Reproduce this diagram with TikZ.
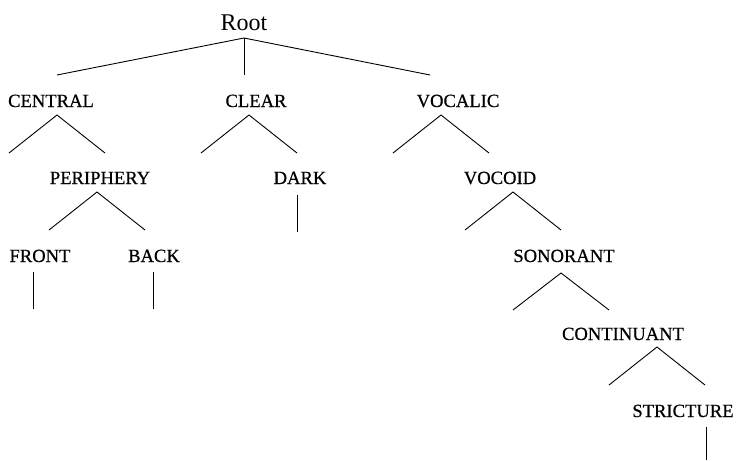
\documentclass[tikz,border=0pt]{standalone}
\usepackage{fontspec}
\setmainfont{Liberation Serif}
\newfontfamily\labfont[FakeBold=0.6]{Liberation Serif}
\begin{document}
\begin{tikzpicture}[x=1pt,y=-1pt,
  lab/.style={font=\labfont\fontsize{18.6}{20}\selectfont, anchor=base, inner sep=0pt},
  br/.style={line width=0.9pt, line cap=butt}]
\useasboundingbox (0,0) rectangle (736,461);
% labels
\node[anchor=base, inner sep=0pt, font=\fontsize{24}{26}\selectfont] (root) at (244,30) {Root};
\node[lab] (central) at (51,107) {CENTRAL};
\node[lab] (clear) at (256,107) {CLEAR};
\node[lab] (vocalic) at (458,107) {VOCALIC};
\node[lab] (periphery) at (100,184) {PERIPHERY};
\node[lab] (dark) at (300,184) {DARK};
\node[lab] (vocoid) at (500,184) {VOCOID};
\node[lab] (front) at (40,262) {FRONT};
\node[lab] (back) at (154,262) {BACK};
\node[lab] (sonorant) at (564,262) {SONORANT};
\node[lab] (continuant) at (623,340) {CONTINUANT};
\node[lab] (stricture) at (683,417) {STRICTURE};
% branch points
\coordinate (r0) at (244,38);
\coordinate (r1) at (57,75);
\coordinate (r2) at (244,75);
\coordinate (r3) at (430,75);
\coordinate (c0) at (57,115); \coordinate (c1) at (9,153); \coordinate (c2) at (105,153);
\coordinate (l0) at (249,115); \coordinate (l1) at (201,153); \coordinate (l2) at (297,153);
\coordinate (v0) at (441,115); \coordinate (v1) at (393,153); \coordinate (v2) at (489,153);
\coordinate (p0) at (97,192); \coordinate (p1) at (49,230); \coordinate (p2) at (145,230);
\coordinate (d0) at (297,195); \coordinate (d1) at (297,232);
\coordinate (o0) at (513,192); \coordinate (o1) at (465,230); \coordinate (o2) at (561,230);
\coordinate (f0) at (33,272); \coordinate (f1) at (33,309);
\coordinate (b0) at (153,272); \coordinate (b1) at (153,309);
\coordinate (s0) at (561,273); \coordinate (s1) at (513,310); \coordinate (s2) at (609,310);
\coordinate (n0) at (657,347); \coordinate (n1) at (609,385); \coordinate (n2) at (705,385);
\coordinate (t0) at (706,427); \coordinate (t1) at (706,460);
% branches
\draw[br] (r1) -- (r0) -- (r3);
\draw[br] (r0) -- (r2);
\draw[br] (c1) -- (c0) -- (c2);
\draw[br] (l1) -- (l0) -- (l2);
\draw[br] (v1) -- (v0) -- (v2);
\draw[br] (p1) -- (p0) -- (p2);
\draw[br] (d0) -- (d1);
\draw[br] (o1) -- (o0) -- (o2);
\draw[br] (f0) -- (f1);
\draw[br] (b0) -- (b1);
\draw[br] (s1) -- (s0) -- (s2);
\draw[br] (n1) -- (n0) -- (n2);
\draw[br] (t0) -- (t1);
\end{tikzpicture}
\end{document}
